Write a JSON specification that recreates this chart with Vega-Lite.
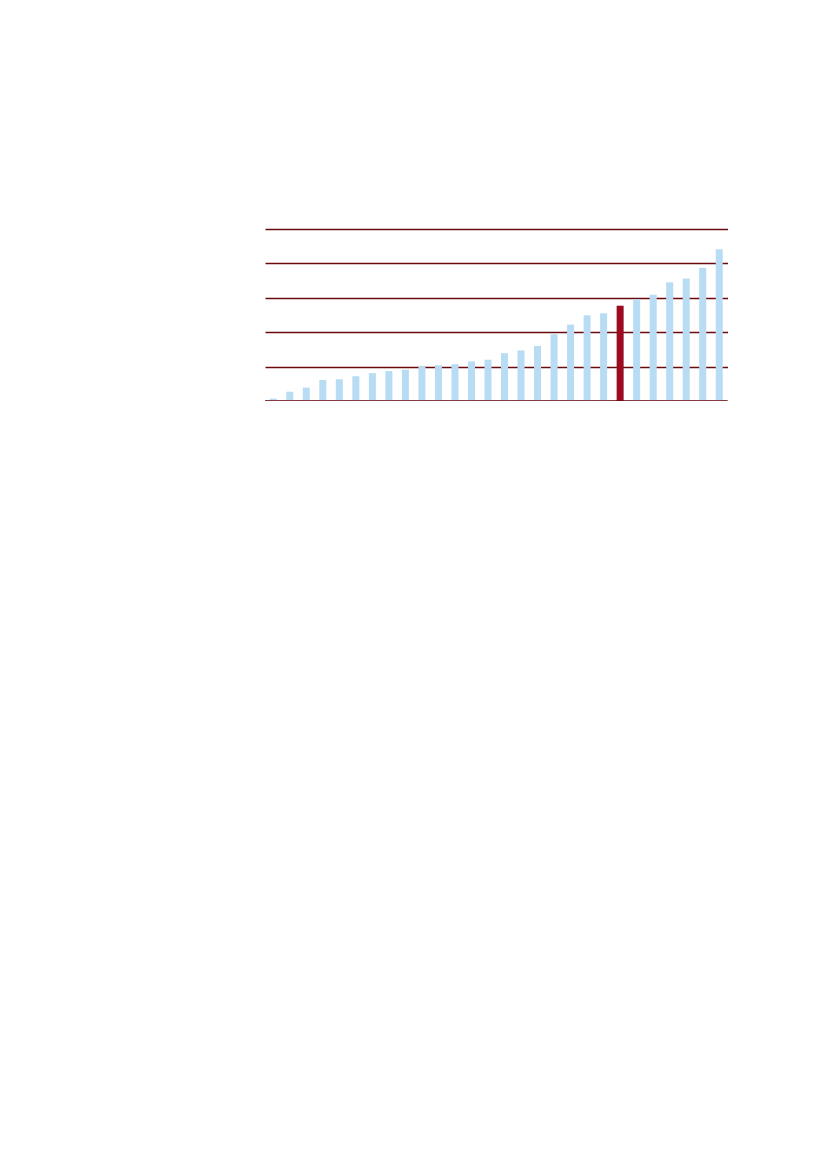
{
  "$schema": "https://vega.github.io/schema/vega-lite/v6.json",
  "autosize": "none",
  "padding": {"left": 265, "top": 229, "right": 100, "bottom": 0},
  "width": 462.5,
  "height": 172,
  "background": "#ffffff",
  "config": {"view": {"stroke": null}},
  "data": {
    "values": [
      {"rank": 1, "value": 0.7, "highlight": "no"},
      {"rank": 2, "value": 2.7, "highlight": "no"},
      {"rank": 3, "value": 3.9, "highlight": "no"},
      {"rank": 4, "value": 6.1, "highlight": "no"},
      {"rank": 5, "value": 6.3, "highlight": "no"},
      {"rank": 6, "value": 7.2, "highlight": "no"},
      {"rank": 7, "value": 8.1, "highlight": "no"},
      {"rank": 8, "value": 8.7, "highlight": "no"},
      {"rank": 9, "value": 9.1, "highlight": "no"},
      {"rank": 10, "value": 10.1, "highlight": "no"},
      {"rank": 11, "value": 10.4, "highlight": "no"},
      {"rank": 12, "value": 10.7, "highlight": "no"},
      {"rank": 13, "value": 11.5, "highlight": "no"},
      {"rank": 14, "value": 12.0, "highlight": "no"},
      {"rank": 15, "value": 13.9, "highlight": "no"},
      {"rank": 16, "value": 14.7, "highlight": "no"},
      {"rank": 17, "value": 16.0, "highlight": "no"},
      {"rank": 18, "value": 19.4, "highlight": "no"},
      {"rank": 19, "value": 22.2, "highlight": "no"},
      {"rank": 20, "value": 24.9, "highlight": "no"},
      {"rank": 21, "value": 25.5, "highlight": "no"},
      {"rank": 22, "value": 27.7, "highlight": "yes"},
      {"rank": 23, "value": 29.6, "highlight": "no"},
      {"rank": 24, "value": 30.9, "highlight": "no"},
      {"rank": 25, "value": 34.5, "highlight": "no"},
      {"rank": 26, "value": 35.6, "highlight": "no"},
      {"rank": 27, "value": 38.7, "highlight": "no"},
      {"rank": 28, "value": 44.1, "highlight": "no"}
    ]
  },
  "encoding": {
    "y": {
      "field": "value",
      "type": "quantitative",
      "scale": {"domain": [0, 50], "nice": false},
      "axis": {
        "values": [0, 10, 20, 30, 40, 50],
        "grid": true,
        "gridColor": "#6b0a0e",
        "gridWidth": 1.4,
        "gridOpacity": 1,
        "domain": false,
        "ticks": false,
        "labels": false,
        "title": null
      }
    }
  },
  "layer": [
    {
      "mark": {"type": "bar"},
      "encoding": {
        "x": {
          "field": "rank",
          "type": "ordinal",
          "sort": "ascending",
          "axis": null,
          "scale": {"paddingInner": 0.576, "paddingOuter": 0.288}
        },
        "color": {
          "field": "highlight",
          "type": "nominal",
          "scale": {"domain": ["no", "yes"], "range": ["#b7dcf3", "#9b0a1f"]},
          "legend": null
        }
      }
    },
    {
      "data": {"values": [{"value": 0}]},
      "mark": {"type": "rule", "color": "#6b0a0e", "strokeWidth": 1.4},
      "encoding": {}
    }
  ]
}
